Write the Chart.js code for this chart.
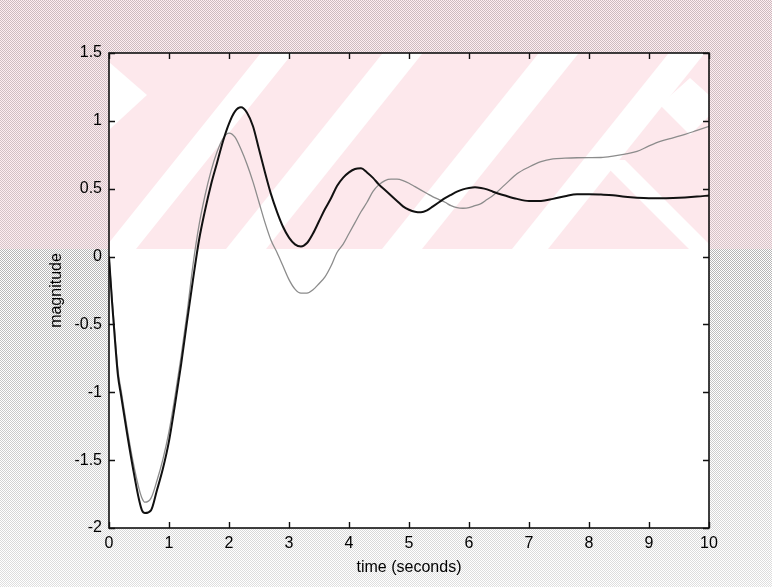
<!DOCTYPE html>
<html>
<head>
<meta charset="utf-8">
<script src="https://cdn.jsdelivr.net/npm/chart.js@4.4.0/dist/chart.umd.min.js"></script>
<style>
  html, body { margin: 0; padding: 0; background: #fff; }
</style>
</head>
<body>
<canvas id="stepChart" width="772" height="587"></canvas>
<script>
// step responses
const timeSec = [0, 0.05, 0.1, 0.15, 0.2, 0.3, 0.4, 0.5, 0.55,
  0.6, 0.7, 0.8, 0.9, 1.0, 1.1, 1.2, 1.3, 1.4, 1.5, 1.6, 1.7, 1.8, 1.9,
  2.0, 2.1, 2.2, 2.3, 2.4, 2.5, 2.6, 2.7, 2.8, 2.9, 3.0, 3.1, 3.2, 3.3,
  3.4, 3.5, 3.6, 3.7, 3.8, 3.9, 4.0, 4.1, 4.2, 4.3, 4.4, 4.5, 4.6, 4.7,
  4.8, 4.9, 5.0, 5.1, 5.2, 5.3, 5.4, 5.5, 5.6, 5.7, 5.8, 5.9, 6.0, 6.1,
  6.2, 6.3, 6.4, 6.6, 6.8, 7.0, 7.2, 7.4, 7.6, 7.8, 8.0, 8.2, 8.4, 8.6,
  8.8, 9.0, 9.2, 9.4, 9.6, 9.8, 10.0];

const solidResp = [0, -0.33, -0.62, -0.88, -1.02, -1.30, -1.56, -1.79, -1.87,
  -1.89, -1.87, -1.72, -1.56, -1.36, -1.09, -0.80, -0.48, -0.17, 0.12, 0.34, 0.53, 0.69, 0.85,
  0.98, 1.07, 1.10, 1.06, 0.96, 0.79, 0.62, 0.46, 0.33, 0.22, 0.14, 0.09, 0.075, 0.10,
  0.17, 0.26, 0.35, 0.43, 0.52, 0.58, 0.62, 0.645, 0.65, 0.62, 0.58, 0.53, 0.49, 0.45,
  0.41, 0.37, 0.345, 0.33, 0.326, 0.34, 0.37, 0.40, 0.43, 0.455, 0.478, 0.495, 0.505, 0.51,
  0.505, 0.495, 0.478, 0.45, 0.425, 0.41, 0.41, 0.425, 0.445, 0.46, 0.46, 0.457, 0.452, 0.44,
  0.433, 0.43, 0.43, 0.432, 0.436, 0.442, 0.45];

const grayResp = [0, -0.30, -0.58, -0.84, -0.98, -1.26, -1.51, -1.71, -1.78,
  -1.81, -1.78, -1.65, -1.49, -1.29, -1.03, -0.74, -0.42, -0.06, 0.23, 0.45, 0.63, 0.77, 0.87,
  0.91, 0.88, 0.79, 0.68, 0.55, 0.40, 0.25, 0.12, 0.03, -0.07, -0.17, -0.24, -0.27, -0.27,
  -0.245, -0.20, -0.15, -0.07, 0.03, 0.09, 0.17, 0.25, 0.33, 0.40, 0.48, 0.53, 0.56, 0.57,
  0.57, 0.56, 0.54, 0.515, 0.49, 0.465, 0.44, 0.42, 0.40, 0.375, 0.36, 0.356, 0.36, 0.375,
  0.39, 0.42, 0.45, 0.53, 0.61, 0.66, 0.70, 0.72, 0.725, 0.728, 0.729, 0.73, 0.74, 0.755,
  0.775, 0.815, 0.85, 0.875, 0.90, 0.93, 0.96];

const xTicks = [0, 1, 2, 3, 4, 5, 6, 7, 8, 9, 10];
const yTicks = [-2, -1.5, -1, -0.5, 0, 0.5, 1, 1.5];

const toPoints = vals => timeSec.map((t, i) => ({ x: t, y: vals[i] }));
const fontFamily = '"Liberation Sans", Arial, Helvetica, sans-serif';

// halftone look of the scan
function dotPattern(ctx) {
  const c = document.createElement('canvas');
  c.width = 2; c.height = 2;
  const g = c.getContext('2d');
  g.fillStyle = '#fff';
  g.fillRect(0, 0, 2, 2);
  g.fillStyle = '#a4a4a4';
  g.fillRect(0, 0, 1, 1);
  g.fillRect(1, 1, 1, 1);
  return ctx.createPattern(c, 'repeat');
}

const bandBottom = 249;

const paperBackground = {
  id: 'paperBackground',
  beforeDraw(chart) {
    const { ctx, width, height, chartArea: a } = chart;
    ctx.save();
    ctx.fillStyle = dotPattern(ctx);
    ctx.fillRect(0, 0, width, height);
    const fade = ctx.createLinearGradient(0, 0, 0, height);
    fade.addColorStop(0, 'rgba(255,255,255,0.0)');
    fade.addColorStop(0.45, 'rgba(255,255,255,0.2)');
    fade.addColorStop(1, 'rgba(255,255,255,0.65)');
    ctx.fillStyle = fade;
    ctx.fillRect(0, 0, width, height);
    ctx.fillStyle = 'rgba(252,215,224,0.45)';
    ctx.fillRect(0, 0, width, bandBottom);

    // plot area with the pink watermark band
    ctx.beginPath();
    ctx.rect(a.left, a.top, a.right - a.left, a.bottom - a.top);
    ctx.clip();
    ctx.fillStyle = '#fff';
    ctx.fillRect(a.left, a.top, a.right - a.left, a.bottom - a.top);
    ctx.fillStyle = '#fde8ec';
    ctx.fillRect(a.left, a.top, a.right - a.left, bandBottom - a.top);
    ctx.fillStyle = '#fff';
    const h = bandBottom - a.top;
    const slope = 0.8;
    [[104, 32], [226, 40], [382, 40], [512, 36]].forEach(([xb, w]) => {
      ctx.beginPath();
      ctx.moveTo(xb, bandBottom);
      ctx.lineTo(xb + w, bandBottom);
      ctx.lineTo(xb + w + slope * h, a.top);
      ctx.lineTo(xb + slope * h, a.top);
      ctx.closePath();
      ctx.fill();
    });
    // left chevron and right diamond
    ctx.beginPath();
    ctx.moveTo(a.left, 62);
    ctx.lineTo(147, 95);
    ctx.lineTo(a.left, 130);
    ctx.closePath();
    ctx.fill();
    ctx.beginPath();
    ctx.moveTo(660, 105);
    ctx.lineTo(690, 78);
    ctx.lineTo(720, 105);
    ctx.lineTo(690, 135);
    ctx.closePath();
    ctx.fill();
    ctx.beginPath();
    ctx.moveTo(600, 160);
    ctx.lineTo(625, 160);
    ctx.lineTo(714, bandBottom);
    ctx.lineTo(689, bandBottom);
    ctx.closePath();
    ctx.fill();
    ctx.restore();
  }
};

// box and inward ticks like the original plot
const boxTicks = {
  id: 'boxTicks',
  afterDraw(chart) {
    const { ctx, chartArea: a, scales } = chart;
    ctx.save();
    ctx.strokeStyle = '#111';
    ctx.lineWidth = 1.6;
    ctx.strokeRect(a.left, a.top, a.right - a.left, a.bottom - a.top);
    ctx.lineWidth = 1.4;
    ctx.beginPath();
    xTicks.forEach(v => {
      const px = Math.round(scales.x.getPixelForValue(v)) + 0.5;
      ctx.moveTo(px, a.bottom); ctx.lineTo(px, a.bottom - 6);
      ctx.moveTo(px, a.top); ctx.lineTo(px, a.top + 6);
    });
    yTicks.forEach(v => {
      const py = Math.round(scales.y.getPixelForValue(v)) + 0.5;
      ctx.moveTo(a.left, py); ctx.lineTo(a.left + 6, py);
      ctx.moveTo(a.right, py); ctx.lineTo(a.right - 6, py);
    });
    ctx.stroke();
    ctx.restore();
  }
};

const ctx = document.getElementById('stepChart').getContext('2d');
const stepChart = new Chart(ctx, {
  type: 'line',
  data: {
    datasets: [{
      label: 'response 1',
      data: toPoints(solidResp),
      borderColor: '#111',
      borderWidth: 2,
      pointRadius: 0,
      cubicInterpolationMode: 'monotone'
    }, {
      label: 'response 2',
      data: toPoints(grayResp),
      borderColor: '#8c8c8c',
      borderWidth: 1.3,
      pointRadius: 0,
      cubicInterpolationMode: 'monotone'
    }]
  },
  options: {
    responsive: false,
    animation: false,
    layout: { padding: { left: 0, top: 53, right: 63, bottom: 0 } },
    plugins: { legend: { display: false }, tooltip: { enabled: false } },
    scales: {
      x: {
        type: 'linear',
        min: 0,
        max: 10,
        afterBuildTicks: s => { s.ticks = xTicks.map(v => ({ value: v })); },
        afterFit: s => { s.height = 59; },
        grid: { display: false, drawTicks: false },
        border: { display: false },
        ticks: { padding: 6, color: '#000', font: { family: fontFamily, size: 16 }, maxRotation: 0, callback: v => String(v) },
        title: { display: true, text: 'time (seconds)', color: '#000', font: { family: fontFamily, size: 16 }, padding: { top: 0, bottom: 10 } }
      },
      y: {
        min: -2,
        max: 1.5,
        afterBuildTicks: s => { s.ticks = yTicks.map(v => ({ value: v })); },
        afterFit: s => { s.width = 109; },
        grid: { display: false, drawTicks: false },
        border: { display: false },
        ticks: { padding: 7, color: '#000', font: { family: fontFamily, size: 16 }, callback: v => String(v) },
        title: { display: true, text: 'magnitude', color: '#000', font: { family: fontFamily, size: 16 }, padding: { top: 47, bottom: 0 } }
      }
    }
  },
  plugins: [paperBackground, boxTicks]
});
</script>
</body>
</html>
